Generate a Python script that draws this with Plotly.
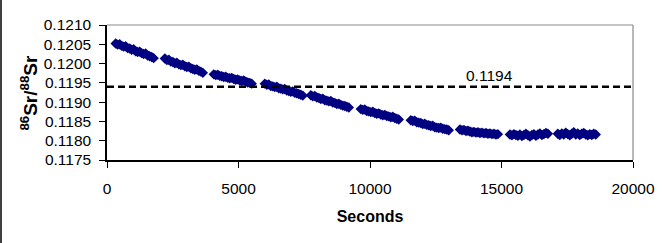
import numpy as np
import plotly.graph_objects as go

# Block start times (s) and cycle interval within a block
block_start = [330, 2200, 4060, 6000, 7750, 9650, 11550, 13420, 15320, 17140]
cycle_seconds = 76

# 86Sr/88Sr values per block
block_values = [
    [0.12052, 0.12049, 0.12050, 0.12046, 0.12044, 0.12045, 0.12040, 0.12039, 0.12036, 0.12037,
     0.12032, 0.12030, 0.12031, 0.12027, 0.12025, 0.12026, 0.12021, 0.12019, 0.12017, 0.12014],
    [0.12013, 0.12009, 0.12010, 0.12005, 0.12004, 0.12001, 0.12002, 0.11998, 0.11996, 0.11997,
     0.11993, 0.11991, 0.11992, 0.11988, 0.11986, 0.11984, 0.11985, 0.11981, 0.11979, 0.11976],
    [0.11972, 0.11970, 0.11971, 0.11968, 0.11967, 0.11965, 0.11966, 0.11963, 0.11962, 0.11963,
     0.11960, 0.11958, 0.11959, 0.11956, 0.11955, 0.11956, 0.11953, 0.11951, 0.11950, 0.11948],
    [0.11948, 0.11945, 0.11946, 0.11942, 0.11941, 0.11939, 0.11940, 0.11936, 0.11935, 0.11933,
     0.11934, 0.11930, 0.11929, 0.11927, 0.11928, 0.11924, 0.11923, 0.11921, 0.11919, 0.11917],
    [0.11918, 0.11915, 0.11916, 0.11912, 0.11911, 0.11908, 0.11909, 0.11905, 0.11904, 0.11902,
     0.11903, 0.11899, 0.11898, 0.11895, 0.11896, 0.11893, 0.11891, 0.11890, 0.11888, 0.11886],
    [0.11882, 0.11880, 0.11881, 0.11877, 0.11876, 0.11874, 0.11875, 0.11872, 0.11870, 0.11871,
     0.11868, 0.11866, 0.11867, 0.11864, 0.11863, 0.11861, 0.11862, 0.11859, 0.11857, 0.11855],
    [0.11853, 0.11851, 0.11852, 0.11848, 0.11847, 0.11846, 0.11843, 0.11844, 0.11841, 0.11840,
     0.11838, 0.11839, 0.11835, 0.11834, 0.11833, 0.11834, 0.11831, 0.11830, 0.11829, 0.11827],
    [0.11829, 0.11827, 0.11828, 0.11825, 0.11826, 0.11824, 0.11822, 0.11823, 0.11821, 0.11822,
     0.11820, 0.11821, 0.11819, 0.11820, 0.11818, 0.11819, 0.11817, 0.11818, 0.11816, 0.11817],
    [0.11816, 0.11814, 0.11817, 0.11815, 0.11813, 0.11816, 0.11812, 0.11815, 0.11818, 0.11814,
     0.11811, 0.11815, 0.11817, 0.11813, 0.11816, 0.11819, 0.11815, 0.11817, 0.11820, 0.11818],
    [0.11818, 0.11815, 0.11819, 0.11816, 0.11821, 0.11817, 0.11814, 0.11818, 0.11822, 0.11816,
     0.11819, 0.11815, 0.11818, 0.11820, 0.11816, 0.11814, 0.11817, 0.11815, 0.11818, 0.11816],
]

reference_value = 0.1194
reference_label = "0.1194"
x_ticks = [0, 5000, 10000, 15000, 20000]
y_ticks = [0.1175, 0.1180, 0.1185, 0.1190, 0.1195, 0.1200, 0.1205, 0.1210]

times = []
values = []
for s, vals in zip(block_start, block_values):
    for i, v in enumerate(vals):
        times.append(s + i * cycle_seconds)
        values.append(v)

FONT = "Liberation Sans, Arial, sans-serif"

fig = go.Figure()
fig.add_trace(go.Scatter(
    x=times, y=values, mode="markers",
    marker=dict(symbol="diamond", size=8, color="#000080", line=dict(width=0)),
    showlegend=False, cliponaxis=False,
))
fig.add_trace(go.Scatter(
    x=[0, 20000], y=[reference_value, reference_value], mode="lines",
    line=dict(color="black", width=2.5, dash="7px,4px"),
    showlegend=False,
))

fig.add_annotation(x=14560, y=reference_value, text=reference_label, showarrow=False,
                   yanchor="bottom", yshift=1, font=dict(family=FONT, size=15.5, color="black"))

# y-axis title placed as a rotated annotation
fig.add_annotation(xref="paper", yref="paper", x=-0.150, y=0.50, textangle=-90,
                   text="<b><sup>86</sup>Sr/<sup>88</sup>Sr</b>", showarrow=False,
                   xanchor="center", yanchor="middle",
                   font=dict(family=FONT, size=19, color="black"))

# frame (top and right in gray)
fig.add_shape(type="line", xref="paper", yref="paper", x0=0, x1=1, y0=1, y1=1,
              line=dict(color="#8a8a8a", width=1.2))
fig.add_shape(type="line", xref="paper", yref="paper", x0=1, x1=1, y0=0, y1=1,
              line=dict(color="#8a8a8a", width=1.2))
# left image border
fig.add_shape(type="line", xref="paper", yref="paper", x0=-0.2015, x1=-0.2015, y0=-0.62, y1=1.2,
              line=dict(color="black", width=1.5))

fig.update_layout(
    width=666, height=243,
    margin=dict(l=107, r=33, t=25, b=83),
    paper_bgcolor="white", plot_bgcolor="white",
    font=dict(family=FONT, size=15.5, color="black"),
)
fig.update_xaxes(
    range=[0, 20000], tickvals=x_ticks, ticktext=[str(t) for t in x_ticks],
    showgrid=False, zeroline=False, showline=True, linecolor="black", linewidth=1.5,
    ticks="outside", ticklen=6, tickcolor="black", tickwidth=1.2,
    ticklabelstandoff=8,
    title=dict(text="<b>Seconds</b>", font=dict(family=FONT, size=16), standoff=14),
)
fig.update_yaxes(
    range=[0.1175, 0.1210], tickvals=y_ticks, ticktext=[f"{t:.4f}" for t in y_ticks],
    showgrid=False, zeroline=False, showline=True, linecolor="black", linewidth=1.5,
    ticks="outside", ticklen=6, tickcolor="black", tickwidth=1.2,
    ticklabelstandoff=5,
)

fig.write_html("out.html")
